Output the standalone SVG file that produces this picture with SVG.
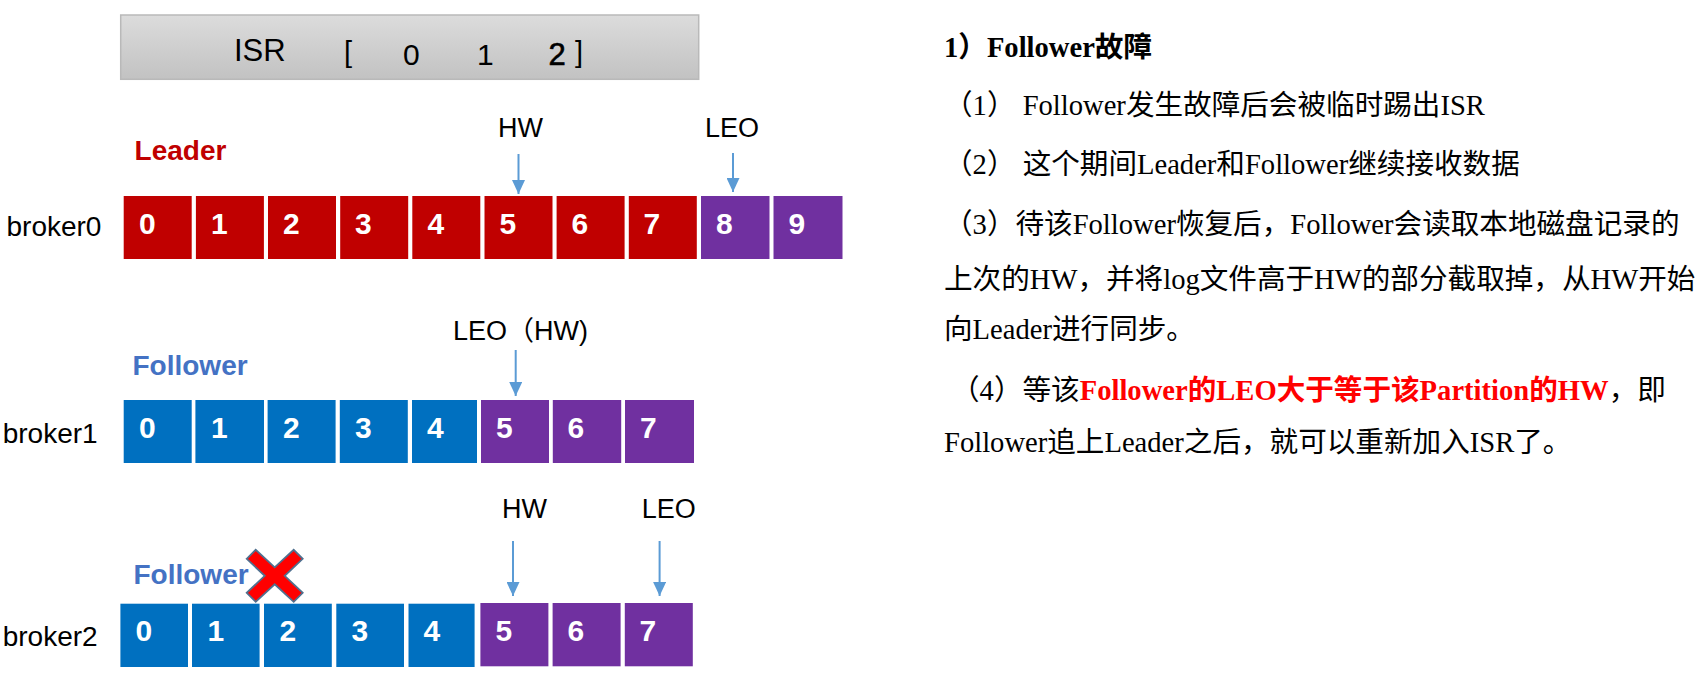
<svg xmlns="http://www.w3.org/2000/svg" width="1702" height="683" viewBox="0 0 1702 683">
<defs>
<linearGradient id="gisr" x1="0" y1="0" x2="0" y2="1">
<stop offset="0" stop-color="#dcdcdc"/>
<stop offset="1" stop-color="#c2c2c2"/>
</linearGradient>
<marker id="ah" markerUnits="userSpaceOnUse" viewBox="0 0 14 13" markerWidth="14" markerHeight="13" refX="14" refY="6.5" orient="auto">
<path d="M0,0 L14,6.5 L0,13 z" fill="#5B9BD5"/>
</marker>
<style>
.sans{font-family:"Liberation Sans",Arial,sans-serif;}
.lbl{font-family:"Liberation Sans",Arial,sans-serif;font-size:28px;fill:#000;}
.tag{font-family:"Liberation Sans",Arial,sans-serif;font-size:27px;fill:#000;}
.num{font-family:"Liberation Sans",Arial,sans-serif;font-size:30px;font-weight:bold;fill:#fff;}
.red{fill:#C00000;stroke:#fff;stroke-width:2;}
.blue{fill:#0070C0;stroke:#fff;stroke-width:2;}
.pur{fill:#7030A0;stroke:#fff;stroke-width:2;}
.arrow{stroke:#5B9BD5;stroke-width:2;fill:none;marker-end:url(#ah);}
.txt{font-family:"Liberation Serif","Noto Sans CJK SC",serif;font-size:28.6px;fill:#000;}
</style>
</defs>
<rect width="1702" height="683" fill="#fff"/>

<g id="isr">
<rect x="120.7" y="15" width="578" height="64.3" fill="url(#gisr)" stroke="#b9b9b9" stroke-width="1.5"/>
<text class="sans" x="234" y="61" font-size="31">ISR</text>
<text class="sans" x="344" y="62" font-size="29">[</text>
<text class="sans" x="403" y="65" font-size="30">0</text>
<text class="sans" x="477" y="65" font-size="30">1</text>
<text class="sans" x="548.5" y="65" font-size="31" stroke="#000" stroke-width="0.6">2</text>
<text class="sans" x="575" y="62" font-size="29">]</text>
</g>

<g id="broker0">
<text class="lbl" x="6.5" y="236">broker0</text>
<text x="134.6" y="160" class="sans" font-size="28" font-weight="bold" fill="#C00000">Leader</text>
<rect class="red" x="122.7" y="195" width="70" height="65"/>
<rect class="red" x="194.9" y="195" width="70" height="65"/>
<rect class="red" x="267" y="195" width="70" height="65"/>
<rect class="red" x="339.2" y="195" width="70" height="65"/>
<rect class="red" x="411.3" y="195" width="70" height="65"/>
<rect class="red" x="483.5" y="195" width="70" height="65"/>
<rect class="red" x="555.6" y="195" width="70" height="65"/>
<rect class="red" x="627.8" y="195" width="70" height="65"/>
<rect class="pur" x="700" y="195" width="70.5" height="65"/>
<rect class="pur" x="772.5" y="195" width="71" height="65"/>
<text class="num" x="139" y="234">0</text>
<text class="num" x="211" y="234">1</text>
<text class="num" x="283" y="234">2</text>
<text class="num" x="355" y="234">3</text>
<text class="num" x="427.5" y="234">4</text>
<text class="num" x="499.5" y="234">5</text>
<text class="num" x="571.5" y="234">6</text>
<text class="num" x="643.5" y="234">7</text>
<text class="num" x="716" y="234">8</text>
<text class="num" x="788.5" y="234">9</text>
<text class="tag" x="498" y="137">HW</text>
<text class="tag" x="705" y="137">LEO</text>
</g>

<g id="broker1">
<text class="lbl" x="2.7" y="443">broker1</text>
<text x="132.5" y="375" class="sans" font-size="28" font-weight="bold" fill="#4472C4">Follower</text>
<rect class="blue" x="122.7" y="399" width="70" height="65"/>
<rect class="blue" x="194.4" y="399" width="70.6" height="65"/>
<rect class="blue" x="266.6" y="399" width="70" height="65"/>
<rect class="blue" x="338.8" y="399" width="70" height="65"/>
<rect class="blue" x="411" y="399" width="67" height="65"/>
<rect class="pur" x="480" y="399" width="70" height="65"/>
<rect class="pur" x="551.8" y="399" width="70.4" height="65"/>
<rect class="pur" x="624" y="399" width="71" height="65"/>
<text class="num" x="139" y="437.5">0</text>
<text class="num" x="211" y="437.5">1</text>
<text class="num" x="283" y="437.5">2</text>
<text class="num" x="355" y="437.5">3</text>
<text class="num" x="427" y="437.5">4</text>
<text class="num" x="496" y="437.5">5</text>
<text class="num" x="567.5" y="437.5">6</text>
<text class="num" x="640" y="437.5">7</text>
<text class="tag" x="453" y="340">LEO<tspan font-family="'Noto Sans CJK SC',sans-serif">（</tspan>HW)</text>
</g>

<g id="broker2">
<text class="lbl" x="2.7" y="646">broker2</text>
<text x="133.5" y="584" class="sans" font-size="28" font-weight="bold" fill="#4472C4">Follower</text>
<rect class="blue" x="119.4" y="602.7" width="69.6" height="65.3"/>
<rect class="blue" x="191" y="602.7" width="69.6" height="65.3"/>
<rect class="blue" x="263" y="602.7" width="69.8" height="65.3"/>
<rect class="blue" x="335.3" y="602.7" width="69.7" height="65.3"/>
<rect class="blue" x="407.5" y="602.7" width="68.1" height="65.3"/>
<rect class="pur" x="479.4" y="602" width="70" height="65.3"/>
<rect class="pur" x="551.6" y="602" width="70" height="65.3"/>
<rect class="pur" x="623.8" y="602" width="70" height="65.3"/>
<text class="num" x="135.5" y="641">0</text>
<text class="num" x="207.5" y="641">1</text>
<text class="num" x="279.5" y="641">2</text>
<text class="num" x="351.5" y="641">3</text>
<text class="num" x="423.5" y="641">4</text>
<text class="num" x="495.5" y="641">5</text>
<text class="num" x="567.5" y="641">6</text>
<text class="num" x="639.5" y="641">7</text>
<text class="tag" x="502" y="518">HW</text>
<text class="tag" x="641.7" y="518">LEO</text>
<polygon id="cross" transform="translate(274.7,575.8)" points="-28,-17 -19,-26 0,-8.5 19,-26 28,-17 10,0 28,17 19,26 0,8.5 -19,26 -28,17 -10,0" fill="#FF0000" stroke="#50708f" stroke-width="1.8" stroke-linejoin="miter"/>
</g>

<g id="connectors">
<line class="arrow" x1="518.5" y1="154" x2="518.5" y2="194"/>
<line class="arrow" x1="733" y1="153" x2="733" y2="192"/>
<line class="arrow" x1="515.7" y1="350" x2="515.7" y2="396"/>
<line class="arrow" x1="513" y1="541" x2="513" y2="596"/>
<line class="arrow" x1="659.6" y1="541" x2="659.6" y2="596"/>
</g>

<g id="notes">
<text class="txt" x="944" y="57" font-weight="bold">1）Follower故障</text>
<text class="txt" x="944" y="115">（1） Follower发生故障后会被临时踢出ISR</text>
<text class="txt" x="944" y="173.5">（2） 这个期间Leader和Follower继续接收数据</text>
<text class="txt" x="944" y="234">（3）待该Follower恢复后，Follower会读取本地磁盘记录的</text>
<text class="txt" x="944" y="288.5">上次的HW，并将log文件高于HW的部分截取掉，从HW开始</text>
<text class="txt" x="944" y="338.5">向Leader进行同步。</text>
<text class="txt" x="951" y="400">（4）等该<tspan font-weight="bold" fill="#FF0000">Follower的LEO大于等于该Partition的HW</tspan>，即</text>
<text class="txt" x="944" y="452">Follower追上Leader之后，就可以重新加入ISR了。</text>
</g>
</svg>
